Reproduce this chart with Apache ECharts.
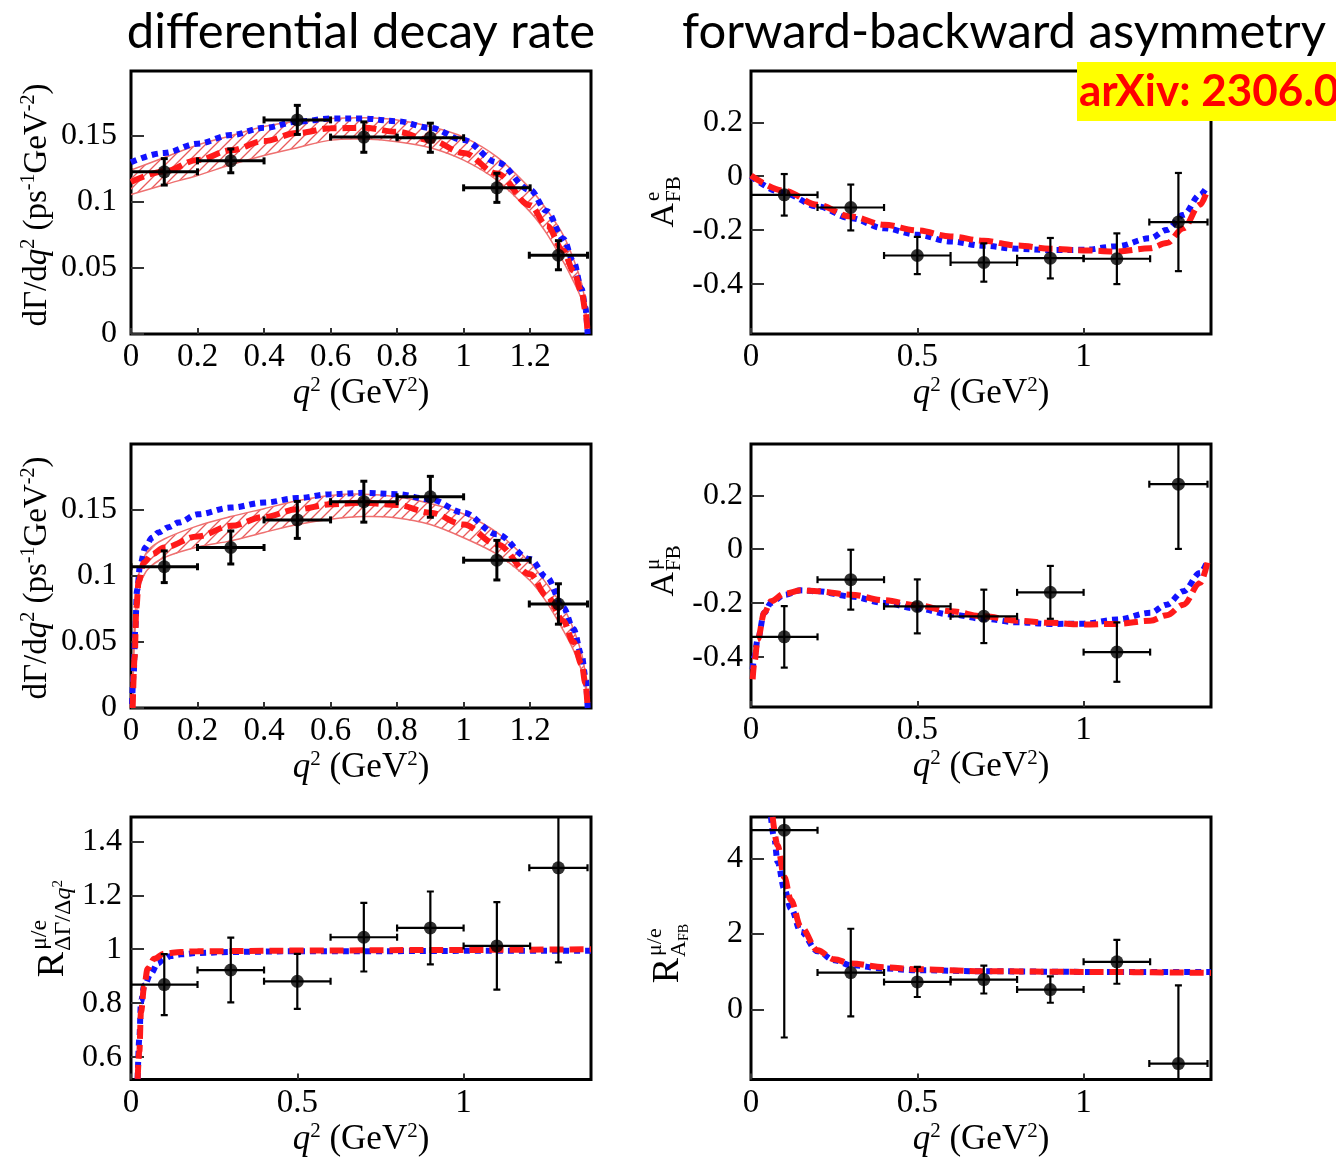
<!DOCTYPE html>
<html>
<head>
<meta charset="utf-8">
<script src="https://cdn.jsdelivr.net/npm/echarts@6/dist/echarts.min.js"></script>
<style>
html, body { margin: 0; padding: 0; background: #fff; }
#main { width: 1336px; height: 1158px; }
</style>
</head>
<body>
<div id="main"></div>
<script>
(function () {

	var SERIF = 'Liberation Serif';
	var Q2MAX = 1.383;

	// measured bins (same for every panel)
	var binX = [0.1, 0.3, 0.5, 0.7, 0.9, 1.1, 1.285];
	var binHalf = [0.1, 0.1, 0.1, 0.1, 0.1, 0.1, 0.0875];

	// dGamma/dq2, electron mode
	var rateE_q2 = [0, 0.1, 0.2, 0.3, 0.4, 0.5, 0.6, 0.7, 0.8, 0.9, 1.0, 1.1, 1.2, 1.25, 1.3, 1.33, 1.355, 1.366, 1.373];
	var rateE_blue = [0.130, 0.137, 0.144, 0.1505, 0.156, 0.1606, 0.163, 0.163, 0.161, 0.156, 0.1467, 0.130, 0.109, 0.093, 0.072, 0.055, 0.034, 0.020, 0];
	var rateE_red = [0.115, 0.123, 0.1316, 0.139, 0.146, 0.152, 0.1556, 0.156, 0.153, 0.1467, 0.137, 0.1215, 0.0975, 0.082, 0.063, 0.048, 0.032, 0.018, 0];
	var rateE_hi = [0.124, 0.1335, 0.143, 0.150, 0.157, 0.161, 0.163, 0.1636, 0.162, 0.157, 0.149, 0.134, 0.110, 0.094, 0.0747, 0.057, 0.038, 0.022, 0];
	var rateE_lo = [0.1055, 0.113, 0.120, 0.128, 0.135, 0.141, 0.1467, 0.1475, 0.1455, 0.141, 0.1316, 0.1164, 0.0924, 0.076, 0.0545, 0.040, 0.026, 0.014, 0];
	var rateE_data = [0.1227, 0.131, 0.162, 0.149, 0.1485, 0.1106, 0.0596];
	var rateE_err = [0.010, 0.009, 0.011, 0.0115, 0.011, 0.011, 0.011];

	// dGamma/dq2, muon mode
	var rateMu_blueQ2 = [0.003, 0.008, 0.013, 0.018, 0.028, 0.043, 0.063, 0.083, 0.113, 0.143, 0.2, 0.3, 0.4, 0.5, 0.6, 0.7, 0.8, 0.9, 1.0, 1.1, 1.2, 1.25, 1.3, 1.33, 1.355, 1.366, 1.373];
	var rateMu_blue = [0.003, 0.026, 0.061, 0.089, 0.109, 0.1216, 0.129, 0.133, 0.137, 0.1405, 0.1467, 0.1518, 0.1556, 0.159, 0.162, 0.163, 0.162, 0.158, 0.148, 0.1316, 0.1128, 0.099, 0.076, 0.060, 0.040, 0.024, 0];
	var rateMu_redQ2 = [0.005, 0.011, 0.016, 0.023, 0.038, 0.063, 0.1, 0.2, 0.3, 0.4, 0.5, 0.6, 0.7, 0.8, 0.9, 1.0, 1.1, 1.2, 1.25, 1.3, 1.33, 1.355, 1.366, 1.373];
	var rateMu_red = [0, 0.0385, 0.076, 0.096, 0.110, 0.1165, 0.1216, 0.130, 0.138, 0.1447, 0.1505, 0.1543, 0.1555, 0.1538, 0.148, 0.139, 0.124, 0.1014, 0.085, 0.066, 0.050, 0.033, 0.019, 0];
	var rateMu_bandQ2 = [0.005, 0.01, 0.02, 0.03, 0.05, 0.1, 0.2, 0.3, 0.4, 0.5, 0.6, 0.7, 0.8, 0.9, 1.0, 1.1, 1.2, 1.25, 1.3, 1.33, 1.355, 1.366, 1.373];
	var rateMu_hi = [0, 0.06, 0.095, 0.108, 0.119, 0.128, 0.138, 0.145, 0.151, 0.157, 0.161, 0.162, 0.160, 0.155, 0.147, 0.133, 0.110, 0.094, 0.076, 0.060, 0.041, 0.025, 0];
	var rateMu_lo = [0, 0.05, 0.08, 0.095, 0.105, 0.114, 0.122, 0.1266, 0.133, 0.139, 0.143, 0.145, 0.144, 0.139, 0.129, 0.1165, 0.0964, 0.080, 0.0586, 0.044, 0.028, 0.016, 0];
	var rateMu_data = [0.107, 0.1216, 0.1425, 0.1563, 0.160, 0.112, 0.0788];
	var rateMu_err = [0.012, 0.0125, 0.014, 0.0155, 0.0155, 0.015, 0.0153];

	// A_FB, electron mode
	var afbE_q2 = [0, 0.1, 0.2, 0.3, 0.4, 0.5, 0.6, 0.7, 0.8, 0.9, 1.0, 1.1, 1.2, 1.25, 1.3, 1.35, 1.373];
	var afbE_blue = [0, -0.063, -0.112, -0.156, -0.193, -0.217, -0.242, -0.258, -0.269, -0.274, -0.273, -0.260, -0.230, -0.199, -0.143, -0.069, -0.035];
	var afbE_red = [0.0025, -0.054, -0.106, -0.149, -0.180, -0.201, -0.2235, -0.2395, -0.257, -0.269, -0.275, -0.279, -0.267, -0.248, -0.193, -0.106, -0.047];
	var afbE_data = [-0.069, -0.116, -0.294, -0.320, -0.304, -0.306, -0.170];
	var afbE_err = [0.077, 0.085, 0.069, 0.071, 0.075, 0.094, 0.182];

	// A_FB, muon mode
	var afbMu_q2 = [0.005, 0.01, 0.02, 0.04, 0.06, 0.1, 0.15, 0.2, 0.3, 0.4, 0.5, 0.6, 0.7, 0.8, 0.9, 1.0, 1.1, 1.2, 1.25, 1.3, 1.35, 1.373];
	var afbMu_blue = [-0.4455, -0.40, -0.335, -0.236, -0.199, -0.169, -0.1526, -0.156, -0.175, -0.199, -0.220, -0.242, -0.258, -0.271, -0.277, -0.276, -0.261, -0.236, -0.2055, -0.156, -0.0886, -0.042];
	var afbMu_red = [-0.482, -0.421, -0.335, -0.236, -0.193, -0.165, -0.1526, -0.156, -0.1686, -0.1895, -0.208, -0.230, -0.249, -0.265, -0.273, -0.279, -0.277, -0.265, -0.245, -0.2055, -0.1255, -0.0455];
	var afbMu_data = [-0.325, -0.113, -0.212, -0.249, -0.160, -0.3815, 0.241];
	var afbMu_err = [0.114, 0.111, 0.1, 0.099, 0.098, 0.11, 0.24];

	// ratio of rates mu/e
	var rRate_blueQ2 = [0.02, 0.025, 0.03, 0.04, 0.06, 0.08, 0.1, 0.12, 0.15, 0.2, 0.3, 0.5, 0.7, 1.0, 1.383];
	var rRate_blue = [0.52, 0.669, 0.805, 0.866, 0.91, 0.947, 0.965, 0.975, 0.981, 0.986, 0.990, 0.9926, 0.9926, 0.994, 0.994];
	var rRate_redQ2 = [0.02, 0.025, 0.03, 0.04, 0.05, 0.07, 0.1, 0.15, 0.2, 0.5, 1.0, 1.383];
	var rRate_red = [0.52, 0.619, 0.768, 0.866, 0.928, 0.965, 0.984, 0.990, 0.9926, 0.995, 0.9975, 1.0];
	var rRate_data = [0.869, 0.923, 0.881, 1.0445, 1.079, 1.0124, 1.3016];
	var rRate_err = [0.113, 0.12, 0.102, 0.127, 0.135, 0.162, 0.35];

	// ratio of A_FB mu/e
	var rAfb_blueQ2 = [0.06, 0.07, 0.08, 0.1, 0.12, 0.15, 0.2, 0.25, 0.3, 0.4, 0.5, 0.7, 1.0, 1.383];
	var rAfb_blue = [5.1, 4.53, 3.91, 3.2, 2.68, 2.06, 1.545, 1.307, 1.174, 1.086, 1.042, 1.015, 0.998, 0.998];
	var rAfb_redQ2 = [0.065, 0.08, 0.1, 0.12, 0.15, 0.2, 0.25, 0.3, 0.4, 0.5, 0.7, 1.0, 1.383];
	var rAfb_red = [5.1, 4.35, 3.51, 2.9, 2.19, 1.57, 1.333, 1.218, 1.12, 1.068, 1.015, 0.998, 0.97];
	var rAfb_data = [4.75, 0.980, 0.733, 0.795, 0.53, 1.263, -1.43];
	var rAfb_err = [5.49, 1.16, 0.4, 0.37, 0.35, 0.58, 2.07];

	// tick values
	var xTicksFine = [0, 0.2, 0.4, 0.6, 0.8, 1, 1.2];
	var xTicksCoarse = [0, 0.5, 1];
	var yTicksRate = [0, 0.05, 0.1, 0.15];
	var yTicksAfb = [-0.4, -0.2, 0, 0.2];
	var yTicksRRate = [0.6, 0.8, 1, 1.2, 1.4];
	var yTicksRAfb = [0, 2, 4];

	var BLUE = '#1212ff', RED = '#ff1a1a';
	var DOT = [6, 5], DASH = [14, 6];

	// hatch pattern for the uncertainty band
	var hatch = document.createElement('canvas');
	hatch.width = 10; hatch.height = 10;
	var hctx = hatch.getContext('2d');
	hctx.strokeStyle = '#e95a5a';
	hctx.lineWidth = 1.3;
	hctx.beginPath();
	hctx.moveTo(0, 10); hctx.lineTo(10, 0);
	hctx.moveTo(-3, 3); hctx.lineTo(3, -3);
	hctx.moveTo(7, 13); hctx.lineTo(13, 7);
	hctx.stroke();
	var hatchFill = { image: hatch, repeat: 'repeat' };

	function pairs(xs, ys) {
		return xs.map(function (x, i) { return [x, ys[i]]; });
	}

	function clipRect(params) {
		var c = params.coordSys;
		return { type: 'rect', shape: { x: c.x, y: c.y, width: c.width, height: c.height } };
	}

	var nameRich = {
		n: { fontFamily: SERIF, fontSize: 35, color: '#000' },
		i: { fontFamily: SERIF, fontSize: 35, fontStyle: 'italic', color: '#000' },
		s: { fontFamily: SERIF, fontSize: 21, color: '#000', padding: [0, 0, 17, 0] }
	};

	function xAxisFor(i, ticks) {
		return {
			gridIndex: i, type: 'value', min: 0, max: Q2MAX,
			name: '{i|q}{s|2}{n| (GeV}{s|2}{n|)}',
			nameLocation: 'middle', nameGap: 35,
			nameTextStyle: { rich: nameRich },
			axisLine: { show: false, onZero: false },
			splitLine: { show: false },
			axisTick: { inside: true, length: 6, customValues: ticks, lineStyle: { color: '#333', width: 2 } },
			axisLabel: { customValues: ticks, margin: 7, fontFamily: SERIF, fontSize: 33, color: '#000' }
		};
	}

	function yAxisFor(i, min, max, ticks, margin) {
		return {
			gridIndex: i, type: 'value', min: min, max: max,
			axisLine: { show: false, onZero: false },
			splitLine: { show: false },
			axisTick: { inside: true, length: 13, customValues: ticks, lineStyle: { color: '#333', width: 2 } },
			axisLabel: { customValues: ticks, margin: margin, fontFamily: SERIF, fontSize: 32, color: '#000' }
		};
	}

	function lineSeries(i, xs, ys, color, dash, z) {
		return {
			type: 'line', xAxisIndex: i, yAxisIndex: i, z: z,
			data: pairs(xs, ys), showSymbol: false, smooth: 0.35, smoothMonotone: 'x',
			silent: true, clip: true,
			lineStyle: { color: color, width: 6, type: dash, cap: 'butt' }
		};
	}

	function bandSeries(i, xs, hi, lo) {
		return {
			type: 'custom', xAxisIndex: i, yAxisIndex: i, z: 1, silent: true,
			data: [[xs[0], hi[0]]],
			renderItem: function (params, api) {
				var top = xs.map(function (x, k) { return api.coord([x, hi[k]]); });
				var bot = xs.map(function (x, k) { return api.coord([x, lo[k]]); });
				var edge = { stroke: '#ee7070', lineWidth: 1.5, fill: null };
				return {
					type: 'group', clipPath: clipRect(params),
					children: [
						{ type: 'polygon', shape: { points: top.concat(bot.slice().reverse()) }, style: { fill: hatchFill, stroke: null } },
						{ type: 'polyline', shape: { points: top, smooth: 0.3 }, style: edge },
						{ type: 'polyline', shape: { points: bot, smooth: 0.3 }, style: edge }
					]
				};
			}
		};
	}

	function errorSeries(i, ys, es, w) {
		var rows = binX.map(function (x, k) { return [x, ys[k], binHalf[k], es[k]]; });
		return {
			type: 'custom', xAxisIndex: i, yAxisIndex: i, z: 4, silent: true,
			data: rows,
			encode: { x: 0, y: 1 },
			renderItem: function (params, api) {
				var x = api.value(0), y = api.value(1), xe = api.value(2), ye = api.value(3);
				var l = api.coord([x - xe, y]), r = api.coord([x + xe, y]);
				var t = api.coord([x, y + ye]), b = api.coord([x, y - ye]);
				var c = 3.5;
				var st = { stroke: '#000', lineWidth: w };
				function seg(x1, y1, x2, y2) {
					return { type: 'line', shape: { x1: x1, y1: y1, x2: x2, y2: y2 }, style: st };
				}
				return {
					type: 'group', clipPath: clipRect(params),
					children: [
						seg(l[0], l[1], r[0], r[1]),
						seg(t[0], t[1], b[0], b[1]),
						seg(l[0], l[1] - c, l[0], l[1] + c),
						seg(r[0], r[1] - c, r[0], r[1] + c),
						seg(t[0] - c, t[1], t[0] + c, t[1]),
						seg(b[0] - c, b[1], b[0] + c, b[1])
					]
				};
			}
		};
	}

	function pointSeries(i, ys) {
		return {
			type: 'scatter', xAxisIndex: i, yAxisIndex: i, z: 5, silent: true, clip: true,
			data: pairs(binX, ys), symbolSize: 13,
			itemStyle: { color: '#000' }
		};
	}

	// rotated axis titles
	function txt(x, y, text, size, align, extra) {
		var style = { text: text, fontFamily: SERIF, fontSize: size, fill: '#000', align: align, verticalAlign: 'middle' };
		if (extra) { for (var k in extra) style[k] = extra[k]; }
		return { type: 'text', x: x, y: y, style: style };
	}
	function rotGroup(x, y, children) {
		return { type: 'group', x: x, y: y, rotation: Math.PI / 2, z: 50, children: children };
	}

	var rateNameRich = {
		n: { fontFamily: SERIF, fontSize: 33, color: '#000' },
		i: { fontFamily: SERIF, fontSize: 33, fontStyle: 'italic', color: '#000' },
		s: { fontFamily: SERIF, fontSize: 20, color: '#000', padding: [0, 0, 17, 0] }
	};
	var rateName = '{n|dΓ/d}{i|q}{s|2}{n| (ps}{s|-1}{n|GeV}{s|-2}{n|)}';

	var grids = [
		{ left: 131, top: 71, width: 460, height: 263 },
		{ left: 751, top: 71, width: 460, height: 263 },
		{ left: 131, top: 444, width: 460, height: 264 },
		{ left: 751, top: 444, width: 460, height: 263 },
		{ left: 131, top: 817, width: 460, height: 263 },
		{ left: 751, top: 817, width: 460, height: 263 }
	].map(function (g) {
		g.show = true; g.borderColor = '#000'; g.borderWidth = 3; g.backgroundColor = 'transparent';
		return g;
	});

	var option = {
		animation: false,
		backgroundColor: '#fff',
		grid: grids,
		xAxis: [
			xAxisFor(0, xTicksFine), xAxisFor(1, xTicksCoarse),
			xAxisFor(2, xTicksFine), xAxisFor(3, xTicksCoarse),
			xAxisFor(4, xTicksCoarse), xAxisFor(5, xTicksCoarse)
		],
		yAxis: [
			yAxisFor(0, 0, 0.199, yTicksRate, 14),
			yAxisFor(1, -0.585, 0.39, yTicksAfb, 8),
			yAxisFor(2, 0, 0.2, yTicksRate, 14),
			yAxisFor(3, -0.585, 0.39, yTicksAfb, 8),
			yAxisFor(4, 0.517, 1.49, yTicksRRate, 9),
			yAxisFor(5, -1.855, 5.1, yTicksRAfb, 8)
		],
		series: [
			bandSeries(0, rateE_q2, rateE_hi, rateE_lo),
			lineSeries(0, rateE_q2, rateE_blue, BLUE, DOT, 2),
			lineSeries(0, rateE_q2, rateE_red, RED, DASH, 3),
			errorSeries(0, rateE_data, rateE_err, 3),
			pointSeries(0, rateE_data),

			lineSeries(1, afbE_q2, afbE_blue, BLUE, DOT, 2),
			lineSeries(1, afbE_q2, afbE_red, RED, DASH, 3),
			errorSeries(1, afbE_data, afbE_err, 2.2),
			pointSeries(1, afbE_data),

			bandSeries(2, rateMu_bandQ2, rateMu_hi, rateMu_lo),
			lineSeries(2, rateMu_blueQ2, rateMu_blue, BLUE, DOT, 2),
			lineSeries(2, rateMu_redQ2, rateMu_red, RED, DASH, 3),
			errorSeries(2, rateMu_data, rateMu_err, 3),
			pointSeries(2, rateMu_data),

			lineSeries(3, afbMu_q2, afbMu_blue, BLUE, DOT, 2),
			lineSeries(3, afbMu_q2, afbMu_red, RED, DASH, 3),
			errorSeries(3, afbMu_data, afbMu_err, 2.2),
			pointSeries(3, afbMu_data),

			lineSeries(4, rRate_blueQ2, rRate_blue, BLUE, DOT, 2),
			lineSeries(4, rRate_redQ2, rRate_red, RED, DASH, 3),
			errorSeries(4, rRate_data, rRate_err, 2.2),
			pointSeries(4, rRate_data),

			lineSeries(5, rAfb_blueQ2, rAfb_blue, BLUE, DOT, 2),
			lineSeries(5, rAfb_redQ2, rAfb_red, RED, DASH, 3),
			errorSeries(5, rAfb_data, rAfb_err, 2.2),
			pointSeries(5, rAfb_data)
		],
		graphic: [
			{ type: 'text', x: 361, y: 32, z: 50, style: { text: 'differential decay rate', fontFamily: 'Lato', fontSize: 49, fill: '#000', align: 'center', verticalAlign: 'middle' } },
			{ type: 'text', x: 1004, y: 32, z: 50, style: { text: 'forward-backward asymmetry', fontFamily: 'Lato', fontSize: 49, fill: '#000', align: 'center', verticalAlign: 'middle' } },
			{ type: 'rect', z: 100, shape: { x: 1077, y: 62, width: 259, height: 59 }, style: { fill: '#ffff00' } },
			{ type: 'text', x: 1079, y: 92, z: 101, style: { text: 'arXiv: 2306.0', fontFamily: 'Lato', fontWeight: 'bold', fontSize: 44, fill: '#ff0000', align: 'left', verticalAlign: 'middle' } },

			rotGroup(37, 205, [{ type: 'text', style: { text: rateName, rich: rateNameRich, align: 'center', verticalAlign: 'middle' } }]),
			rotGroup(37, 578, [{ type: 'text', style: { text: rateName, rich: rateNameRich, align: 'center', verticalAlign: 'middle' } }]),

			rotGroup(664, 203, [txt(0, 0, 'A', 34, 'right'), txt(2, -11, 'e', 21, 'left'), txt(1, 10, 'FB', 21, 'left')]),
			rotGroup(664, 572, [txt(0, 0, 'A', 34, 'right'), txt(2, -11, 'μ', 21, 'left'), txt(1, 10, 'FB', 21, 'left')]),

			rotGroup(53, 952, [txt(0, 0, 'R', 38, 'right'), txt(2, -13, 'μ/e', 24, 'left'),
				txt(1, 11, '{a|ΔΓ/Δ}{b|q}{c|2}', 24, 'left', { rich: {
					a: { fontFamily: SERIF, fontSize: 24 },
					b: { fontFamily: SERIF, fontSize: 24, fontStyle: 'italic' },
					c: { fontFamily: SERIF, fontSize: 15, padding: [0, 0, 12, 0] } } })]),
			rotGroup(668, 958, [txt(0, 0, 'R', 38, 'right'), txt(2, -13, 'μ/e', 22, 'left'),
				txt(1, 11, '{a|A}{b|FB}', 22, 'left', { rich: {
					a: { fontFamily: SERIF, fontSize: 22 },
					b: { fontFamily: SERIF, fontSize: 14, padding: [10, 0, 0, 0] } } })])
		]
	};

	var chart = echarts.init(document.getElementById('main'));
	chart.setOption(option);

})();
</script>
</body>
</html>
